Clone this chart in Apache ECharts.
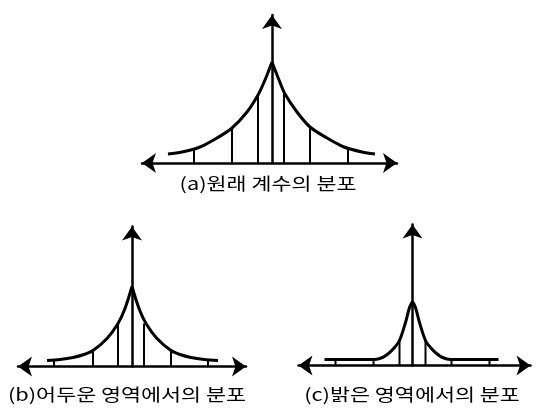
<!DOCTYPE html>
<html><head><meta charset="utf-8">
<script src="https://cdn.jsdelivr.net/npm/echarts@6/dist/echarts.min.js"></script>
<style>html,body{margin:0;padding:0;background:#fff}#c{width:543px;height:410px}</style>
</head><body><div id="c"></div>
<script>
// Panel (a) original coefficient distribution
const aCurveLeftX = [-104, -90, -72, -55, -40, -25, -14, -7, 0];
const aCurveLeftY = [9, 11, 16, 25, 35, 51, 68, 83, 101];
const aCurveRightX = [0, 7, 13, 25, 38, 55, 72, 90, 103];
const aCurveRightY = [101, 83, 69, 51, 36, 25, 16, 11, 9];
const aBarX = [-78, -40, -14, 12, 38, 76];
const aBarY = [14, 35, 68, 70, 36, 14];
// Panel (b) dark region
const bCurveLeftX = [-85, -72, -59, -48, -39, -25, -14, -7, 0];
const bCurveLeftY = [6, 7, 9, 12, 16, 28, 43, 58, 80];
const bCurveRightX = [0, 7, 14, 25, 39, 48, 59, 72, 86];
const bCurveRightY = [80, 58, 43, 28, 16, 12, 9, 7, 6];
const bBarX = [-78, -39, -14, 12, 39, 76];
const bBarY = [6, 15, 43, 43, 15, 6];
// Panel (c) bright region
const cCurveLeftX = [-88, -60, -38, -30, -24, -18, -13, -7, -3, 0];
const cCurveLeftY = [6, 6, 6, 8, 12, 18, 25, 43, 58, 64];
const cCurveRightX = [0, 3, 7, 13, 18, 24, 30, 38, 60, 86];
const cCurveRightY = [64, 58, 43, 25, 18, 12, 8, 6, 6, 6];
const cBarX = [-77, -39, -13, 13, 39, 77];
const cBarY = [6, 6, 25, 25, 6, 6];
// Captions
const titles = ['(a)원래 계수의 분포', '(b)어두운 영역에서의 분포', '(c)밝은 영역에서의 분포'];

const zip = (xs, ys) => xs.map((x, i) => [x, ys[i]]);
const panels = [
  {cl: zip(aCurveLeftX, aCurveLeftY), cr: zip(aCurveRightX, aCurveRightY), bars: zip(aBarX, aBarY)},
  {cl: zip(bCurveLeftX, bCurveLeftY), cr: zip(bCurveRightX, bCurveRightY), bars: zip(bBarX, bBarY)},
  {cl: zip(cCurveLeftX, cCurveLeftY), cr: zip(cCurveRightX, cCurveRightY), bars: zip(cBarX, cBarY)}
];
const layout = [
  {left: 142, top: 15, width: 255, height: 148, xmin: -130, xmax: 125, ymax: 148, tx: 268, ty: 184},
  {left: 18, top: 226.5, width: 228, height: 140, xmin: -114, xmax: 114, ymax: 140, tx: 127, ty: 395},
  {left: 298.5, top: 224.5, width: 232, height: 141, xmin: -114, xmax: 118, ymax: 141, tx: 412, ty: 395}
];
const axisLineStyle = {color: '#000', width: 2.5};
const arrowSize = [15, 14];
const option = {
  animation: false,
  backgroundColor: '#fff',
  grid: layout.map(l => ({left: l.left, top: l.top, width: l.width, height: l.height, containLabel: false})),
  xAxis: layout.map((l, i) => ({
    type: 'value', gridIndex: i, min: l.xmin, max: l.xmax,
    axisLine: {show: true, onZero: true, symbol: ['arrow', 'arrow'], symbolSize: arrowSize, lineStyle: axisLineStyle},
    axisTick: {show: false}, axisLabel: {show: false}, splitLine: {show: false}
  })),
  yAxis: layout.map((l, i) => ({
    type: 'value', gridIndex: i, min: 0, max: l.ymax,
    axisLine: {show: true, onZero: true, symbol: ['none', 'arrow'], symbolSize: arrowSize, lineStyle: axisLineStyle},
    axisTick: {show: false}, axisLabel: {show: false}, splitLine: {show: false}
  })),
  series: [],
  graphic: layout.map((l, i) => ({
    type: 'text', x: l.tx, y: l.ty, scaleX: 1.28,
    style: {text: titles[i], fill: '#000', font: '17px "Noto Sans CJK KR"', textAlign: 'center', textVerticalAlign: 'middle'}
  }))
};
panels.forEach((p, i) => {
  option.series.push({
    type: 'bar', xAxisIndex: i, yAxisIndex: i, data: p.bars, barWidth: 2,
    itemStyle: {color: '#000'}, silent: true, z: 2
  });
  [p.cl, p.cr].forEach(d => option.series.push({
    type: 'line', xAxisIndex: i, yAxisIndex: i, data: d, smooth: 0.3,
    showSymbol: false, symbol: 'none', lineStyle: {color: '#000', width: 3}, silent: true, z: 3
  }));
});
const chart = echarts.init(document.getElementById('c'), null, {renderer: 'canvas'});
chart.setOption(option);
</script>
</body></html>
